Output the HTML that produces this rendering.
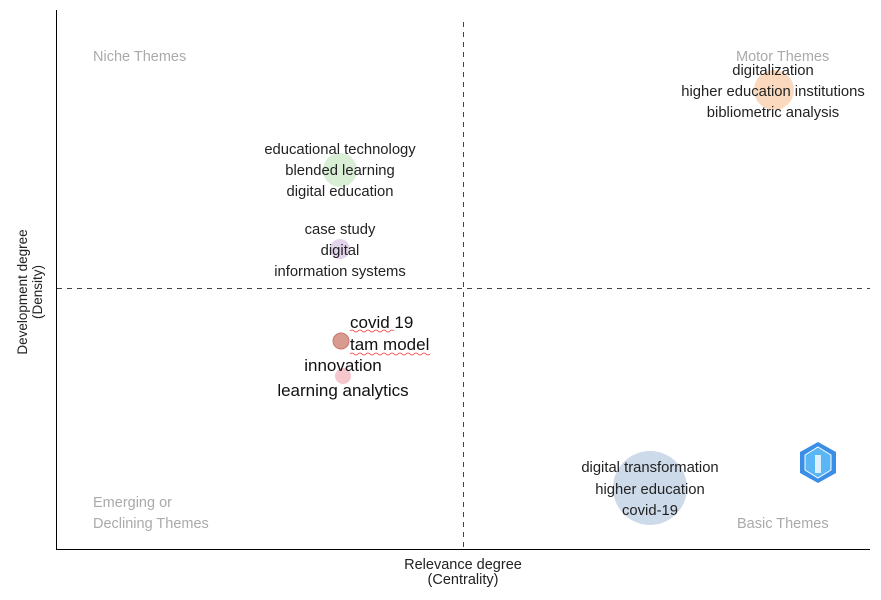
<!DOCTYPE html>
<html><head><meta charset="utf-8"><style>
body{margin:0;background:#fff;}
svg text{font-family:"Liberation Sans",sans-serif;}
</style></head><body>
<svg width="881" height="595" viewBox="0 0 881 595" xmlns="http://www.w3.org/2000/svg">
<rect width="881" height="595" fill="#fff"/>
<line x1="56.5" y1="10" x2="56.5" y2="549" stroke="#000" stroke-width="1"/>
<line x1="56" y1="549.5" x2="870" y2="549.5" stroke="#000" stroke-width="1"/>
<line x1="463.5" y1="22" x2="463.5" y2="549" stroke="#444" stroke-dasharray="5,5"/>
<line x1="57" y1="288.5" x2="870" y2="288.5" stroke="#444" stroke-dasharray="5,5"/>
<g fill="#aaa" font-size="14.5">
<text x="93" y="61">Niche Themes</text>
<text x="736" y="61">Motor Themes</text>
<text x="93" y="507">Emerging or</text>
<text x="93" y="528">Declining Themes</text>
<text x="737" y="528">Basic Themes</text>
</g>
<circle cx="774" cy="90" r="20" fill="#f9d2b3" opacity="0.85"/>
<circle cx="340" cy="170" r="17" fill="#d4ecd0" opacity="0.9"/>
<circle cx="340" cy="249" r="10" fill="#e4d4ec"/>
<circle cx="341" cy="341" r="8" fill="#d99a90" stroke="#c87a70"/>
<circle cx="343" cy="376" r="8" fill="#f6c6cd"/>
<circle cx="650" cy="488" r="37" fill="#c8d6e8" opacity="0.9"/>
<g fill="#222" font-size="14.8" text-anchor="middle">
<text x="773" y="75">digitalization</text>
<text x="773" y="96">higher education institutions</text>
<text x="773" y="117">bibliometric analysis</text>
<text x="340" y="154">educational technology</text>
<text x="340" y="175">blended learning</text>
<text x="340" y="196">digital education</text>
<text x="340" y="234">case study</text>
<text x="340" y="255">digital</text>
<text x="340" y="276">information systems</text>
<text x="650" y="472">digital transformation</text>
<text x="650" y="494">higher education</text>
<text x="650" y="515">covid-19</text>
</g>
<g fill="#111" font-size="17">
<text x="350" y="328">covid 19</text>
<text x="350" y="350">tam model</text>
<text x="343" y="371" text-anchor="middle">innovation</text>
<text x="343" y="396" text-anchor="middle">learning analytics</text>
</g>
<path d="M350 331 q2-2 4 0 t4 0 t4 0 t4 0 t4 0 t4 0 t4 0 t4 0 t4 0 t4 0 t4 0" stroke="#e33" fill="none" stroke-width="0.8"/>
<path d="M350 354 q2-2 4 0 t4 0 t4 0 t4 0 t4 0 t4 0 t4 0 t4 0 t4 0 t4 0 t4 0 t4 0 t4 0 t4 0 t4 0 t4 0 t4 0 t4 0 t4 0 t4 0" stroke="#e33" fill="none" stroke-width="0.8"/>
<polygon points="818,442 836,452 836,473 818,483 800,473 800,452" fill="#3a8ee6"/>
<polygon points="818,447 831,455 831,470 818,478 805,470 805,455" fill="#5bb6f5" stroke="#fff" stroke-width="1"/>
<rect x="815" y="455" width="6" height="18" fill="#fff" opacity="0.8"/>
<g fill="#222" font-size="14.5" text-anchor="middle">
<text x="463" y="569">Relevance degree</text>
<text x="463" y="584">(Centrality)</text>
</g>
<g fill="#222" font-size="13.5" text-anchor="middle">
<text transform="translate(27,292) rotate(-90)">Development degree</text>
<text transform="translate(42,292) rotate(-90)">(Density)</text>
</g>
</svg>
</body></html>
